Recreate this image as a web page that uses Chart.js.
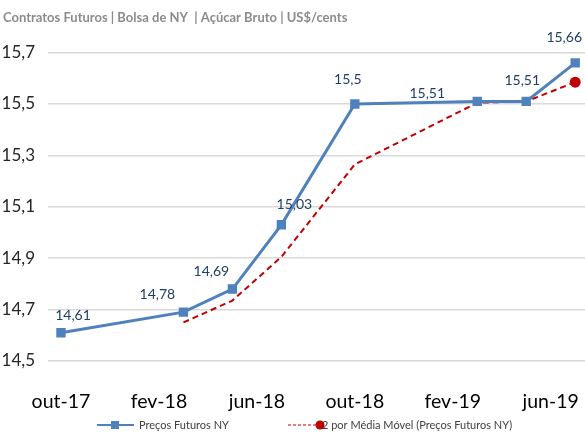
<!DOCTYPE html>
<html>
<head>
<meta charset="utf-8">
<script src="https://cdn.jsdelivr.net/npm/chart.js@4.4.1/dist/chart.umd.min.js"></script>
<style>
  html, body { margin: 0; padding: 0; background: #fff; overflow: hidden; }
  #wrap { width: 585px; height: 433px; position: relative; }
</style>
</head>
<body>
<div id="wrap"><canvas id="chart"></canvas></div>
<script>
// Contratos futuros de açúcar - meses de vencimento
var contratos = ["out-17", "mar-18", "mai-18", "jul-18", "out-18", "mar-19", "mai-19", "jul-19"];
var precos = [14.61, 14.69, 14.78, 15.03, 15.5, 15.51, 15.51, 15.66];
var mediaMovel = [null, 14.65, 14.735, 14.905, 15.265, 15.505, 15.51, 15.585];
var rotulos = ["14,61", "14,78", "14,69", "15,03", "15,5", "15,51", "15,51", "15,66"];
var eixoX = ["out-17", "fev-18", "jun-18", "out-18", "fev-19", "jun-19"];
var eixoY = [14.5, 14.7, 14.9, 15.1, 15.3, 15.5, 15.7];

var meses = ["jan", "fev", "mar", "abr", "mai", "jun", "jul", "ago", "set", "out", "nov", "dez"];
function mesIndex(txt) {
  var p = txt.split("-");
  return Number(p[1]) * 12 + meses.indexOf(p[0]);
}
var base = mesIndex(contratos[0]);
function pos(txt) { return mesIndex(txt) - base; }

var azul = "#4F81BD";
var vermelho = "#C00000";

// deslocamento manual dos rótulos (como no Excel)
var desloc = [[12, -17], [-26, -18], [-21, -18], [13, -20], [-7, -25], [-50, -8], [-4, -21], [-11, -25]];
var rotulosPlugin = {
  id: "rotulos",
  afterDatasetsDraw: function (chart) {
    var ctx = chart.ctx;
    var meta = chart.getDatasetMeta(0);
    ctx.save();
    ctx.font = "14px Lato";
    ctx.fillStyle = "#1F3F66";
    ctx.textAlign = "center";
    ctx.textBaseline = "middle";
    meta.data.forEach(function (pt, i) {
      ctx.fillText(rotulos[i], pt.x + desloc[i][0], pt.y + desloc[i][1]);
    });
    ctx.restore();
  },
};

// legenda no estilo do Excel (linha + marcador)
var legendaPlugin = {
  id: "legenda",
  afterDraw: function (chart) {
    var ctx = chart.ctx;
    var ds = chart.data.datasets;
    var y = 425;
    ctx.save();
    // serie 1
    ctx.strokeStyle = azul; ctx.lineWidth = 2;
    ctx.beginPath(); ctx.moveTo(97, y); ctx.lineTo(134, y); ctx.stroke();
    ctx.fillStyle = azul; ctx.fillRect(111, y - 4, 8, 8);
    // serie 2
    ctx.strokeStyle = vermelho; ctx.lineWidth = 1;
    ctx.setLineDash([3, 2]);
    ctx.beginPath(); ctx.moveTo(288, y); ctx.lineTo(318, y); ctx.stroke();
    ctx.setLineDash([]);
    ctx.fillStyle = vermelho;
    ctx.beginPath(); ctx.arc(320, y, 4.5, 0, Math.PI * 2); ctx.fill();
    ctx.font = "11px Lato";
    ctx.fillStyle = "#404040";
    ctx.textBaseline = "middle";
    ctx.fillText(ds[0].label, 139, y);
    ctx.fillText("2 por " + ds[1].label, 322, y);
    ctx.restore();
  },
};

new Chart(document.getElementById("chart"), {
  type: "line",
  data: {
    datasets: [
      {
        label: "Preços Futuros NY",
        data: contratos.map(function (m, i) { return { x: pos(m), y: precos[i] }; }),
        borderColor: azul,
        backgroundColor: azul,
        borderWidth: 3,
        pointStyle: "rect",
        pointRadius: 4.5,
        pointHoverRadius: 4.5,
        clip: false,
        order: 1,
      },
      {
        label: "Média Móvel (Preços Futuros NY)",
        data: contratos.map(function (m, i) { return { x: pos(m), y: mediaMovel[i] }; }),
        borderColor: vermelho,
        backgroundColor: vermelho,
        borderWidth: 2,
        borderDash: [6, 4],
        pointRadius: function (c) { return c.dataIndex == contratos.length - 1 ? 4.5 : 0; },
        clip: false,
        order: 2,
      },
    ],
  },
  options: {
    responsive: true,
    maintainAspectRatio: false,
    animation: false,
    layout: { autoPadding: false, padding: { top: 0, right: 0, left: 3, bottom: 21 } },
    scales: {
      x: {
        type: "linear",
        min: -0.53,
        max: 21.4,
        grid: { display: false },
        border: { display: false },
        afterBuildTicks: function (scale) {
          scale.ticks = eixoX.map(function (l) { return { value: pos(l) }; });
        },
        afterFit: function (scale) {
          scale.height = 51;
          scale.paddingLeft = 0;
          scale.paddingRight = 0;
        },
        ticks: {
          font: { family: "Lato", size: 19.5 },
          color: "#000",
          padding: 21,
          maxRotation: 0,
          autoSkip: false,
          callback: function (v) {
            var i = eixoX.map(pos).indexOf(v);
            return i >= 0 ? eixoX[i] : "";
          },
        },
      },
      y: {
        min: 14.5,
        max: 15.7,
        afterBuildTicks: function (scale) {
          scale.ticks = eixoY.map(function (v) { return { value: v }; });
        },
        afterFit: function (scale) {
          scale.width = 45;
          scale.paddingTop = 0;
          scale.paddingBottom = 0;
        },
        grid: { color: "#D9D9D9", lineWidth: 1.5, drawTicks: false },
        border: { display: false },
        ticks: {
          font: { family: "Lato", size: 17 },
          color: "#262626",
          padding: 13,
          callback: function (v) { return v.toFixed(1).replace(".", ","); },
        },
      },
    },
    plugins: {
      title: {
        display: true,
        text: "Contratos Futuros | Bolsa de NY  | Açúcar Bruto | US$/cents",
        align: "start",
        color: "#8C8C8C",
        font: { family: "Lato", size: 13, weight: "bold" },
        padding: { top: 10, bottom: 27 },
      },
      legend: { display: false },
      tooltip: { enabled: false },
    },
  },
  plugins: [rotulosPlugin, legendaPlugin],
});
</script>
</body>
</html>
